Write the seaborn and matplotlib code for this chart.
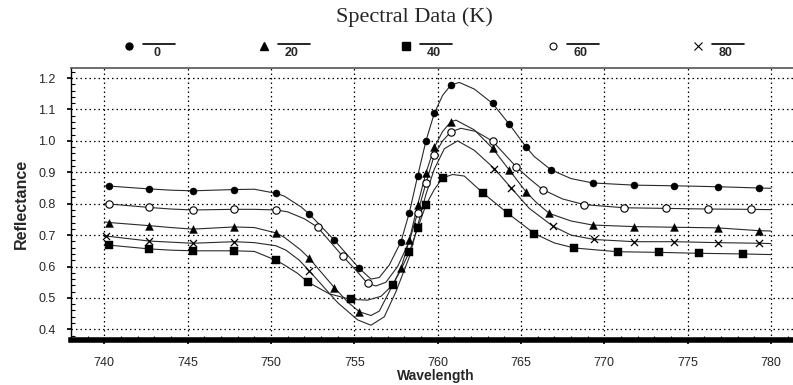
import numpy as np
import pandas as pd
import matplotlib
matplotlib.use("Agg")
import matplotlib.pyplot as plt
from matplotlib.lines import Line2D
from matplotlib.ticker import MultipleLocator
import seaborn as sns

# ---------------- data ----------------
series_labels = ["0", "20", "40", "60", "80"]
series_markers = ["o", "^", "s", "o", "x"]
series_filled = [True, True, True, False, False]

# marker points
wl_0_marks = [740.3, 742.7, 745.3, 747.8, 750.3, 752.3, 753.8, 755.3, 757.8, 758.3, 758.8, 759.3,
              759.8, 760.8, 763.3, 764.3, 765.3, 766.8, 769.3, 771.8, 774.2, 776.8, 779.3]
r_0_marks = [0.856, 0.847, 0.841, 0.845, 0.833, 0.767, 0.684, 0.594, 0.679, 0.771, 0.888, 1.000,
             1.088, 1.178, 1.119, 1.053, 0.981, 0.908, 0.866, 0.859, 0.857, 0.854, 0.850]
# additional points (no marker)
wl_0_extra = [740.0, 744.0, 749.0, 750.8, 751.8, 754.6, 756.0, 756.5, 757.1, 760.3, 761.3, 762.2,
              765.8, 768.0, 780.0]
r_0_extra = [0.857, 0.843, 0.846, 0.824, 0.790, 0.636, 0.560, 0.565, 0.605, 1.145, 1.186, 1.165,
             0.950, 0.880, 0.849]

wl_20_marks = [740.3, 742.7, 745.3, 747.8, 750.3, 752.3, 753.8, 755.3, 757.8, 758.3, 758.8, 759.3,
               759.8, 760.8, 763.3, 764.3, 765.3, 766.7, 769.3, 771.8, 774.2, 776.8, 779.3]
r_20_marks = [0.740, 0.730, 0.719, 0.726, 0.707, 0.626, 0.533, 0.456, 0.594, 0.684, 0.796, 0.898,
              0.979, 1.061, 0.976, 0.907, 0.838, 0.769, 0.732, 0.727, 0.725, 0.723, 0.714]
wl_20_extra = [740.0, 744.0, 749.0, 750.8, 751.8, 754.6, 756.0, 756.5, 757.1, 760.3, 761.1, 762.2,
               765.9, 768.0, 780.0]
r_20_extra = [0.742, 0.724, 0.724, 0.693, 0.652, 0.487, 0.444, 0.458, 0.520, 1.030, 1.066, 1.035,
              0.805, 0.745, 0.713]

wl_40_marks = [740.3, 742.7, 745.3, 747.8, 750.3, 752.2, 754.8, 757.3, 758.3, 758.8, 759.3, 760.3,
               762.7, 764.2, 765.8, 768.2, 770.8, 773.3, 775.7, 778.3]
r_40_marks = [0.668, 0.656, 0.650, 0.650, 0.620, 0.551, 0.495, 0.541, 0.646, 0.722, 0.796, 0.882,
              0.835, 0.770, 0.705, 0.659, 0.647, 0.645, 0.642, 0.640]
wl_40_extra = [740.0, 744.0, 749.0, 750.8, 751.6, 753.5, 755.8, 756.6, 757.8, 759.8, 760.9, 761.6,
               767.0, 780.0]
r_40_extra = [0.670, 0.652, 0.648, 0.605, 0.578, 0.513, 0.493, 0.505, 0.590, 0.845, 0.893, 0.888,
              0.675, 0.638]

wl_60_marks = [740.3, 742.7, 745.3, 747.8, 750.3, 752.8, 754.3, 755.8, 758.8, 759.3, 759.8, 760.8,
               763.3, 764.7, 766.3, 768.8, 771.2, 773.7, 776.2, 778.8]
r_60_marks = [0.799, 0.788, 0.780, 0.782, 0.780, 0.725, 0.633, 0.546, 0.771, 0.865, 0.955, 1.029,
              0.999, 0.918, 0.845, 0.797, 0.787, 0.785, 0.783, 0.782]
wl_60_extra = [740.0, 744.0, 749.0, 751.0, 752.0, 755.1, 756.3, 756.9, 757.6, 758.3, 760.3, 761.4,
               762.3, 765.5, 767.5, 780.0]
r_60_extra = [0.800, 0.783, 0.782, 0.774, 0.752, 0.588, 0.538, 0.550, 0.600, 0.680, 1.000, 1.040,
              1.030, 0.880, 0.815, 0.781]

wl_80_marks = [740.1, 742.7, 745.3, 747.8, 752.3, 758.8, 763.4, 764.4, 766.9, 769.4, 771.8, 774.2,
               776.8, 779.3]
r_80_marks = [0.697, 0.681, 0.674, 0.679, 0.586, 0.730, 0.912, 0.851, 0.729, 0.686, 0.679, 0.679,
              0.676, 0.674]
wl_80_extra = [740.0, 749.0, 750.3, 750.9, 751.7, 754.0, 755.2, 756.0, 756.8, 757.5, 758.3, 759.3,
               759.8, 760.4, 761.2, 762.2, 765.5, 768.0, 780.0]
r_80_extra = [0.698, 0.676, 0.666, 0.652, 0.620, 0.485, 0.430, 0.413, 0.440, 0.520, 0.630, 0.830,
              0.910, 0.975, 1.000, 0.970, 0.785, 0.700, 0.673]

x_ticks = [740, 745, 750, 755, 760, 765, 770, 775, 780]
y_ticks = [0.4, 0.5, 0.6, 0.7, 0.8, 0.9, 1.0, 1.1, 1.2]

marks = [(wl_0_marks, r_0_marks), (wl_20_marks, r_20_marks), (wl_40_marks, r_40_marks),
         (wl_60_marks, r_60_marks), (wl_80_marks, r_80_marks)]
extras = [(wl_0_extra, r_0_extra), (wl_20_extra, r_20_extra), (wl_40_extra, r_40_extra),
          (wl_60_extra, r_60_extra), (wl_80_extra, r_80_extra)]

# ---------------- styling ----------------
sns.set_theme(style="white")
plt.rcParams["font.family"] = ["Liberation Sans", "DejaVu Sans"]

fig = plt.figure(figsize=(7.93, 3.85), dpi=100)
ax = fig.add_axes([71 / 793, 1 - 340 / 385, 1 - 71 / 793 + 0.01, (340 - 68) / 385])

line_color = "#2a2a2a"
for lab, (mw, mr), (ew, er), mk, filled in zip(series_labels, marks, extras,
                                                series_markers, series_filled):
    curve = pd.DataFrame({"Wavelength": list(mw) + list(ew),
                          "Reflectance": list(mr) + list(er)}).sort_values("Wavelength")
    sns.lineplot(data=curve, x="Wavelength", y="Reflectance", ax=ax, color=line_color,
                 lw=0.8, estimator=None, sort=True)
    mdf = pd.DataFrame({"Wavelength": mw, "Reflectance": mr})
    if mk == "x":
        sns.scatterplot(data=mdf, x="Wavelength", y="Reflectance", ax=ax, marker="x",
                        color="black", s=26, linewidth=0.9, zorder=5)
    elif filled:
        size = 26 if mk == "o" else 32
        sns.scatterplot(data=mdf, x="Wavelength", y="Reflectance", ax=ax, marker=mk,
                        color="black", edgecolor="black", s=size, linewidth=0.3, zorder=5)
    else:
        sns.scatterplot(data=mdf, x="Wavelength", y="Reflectance", ax=ax, marker=mk,
                        facecolor="white", edgecolor="black", s=28, linewidth=0.8, zorder=5)

ax.set_xlim(738.0, 781.8)
ax.set_ylim(0.366, 1.232)
ax.set_xticks(x_ticks)
ax.set_yticks(y_ticks)
ax.set_xticklabels([str(t) for t in x_ticks])
ax.set_yticklabels([f"{t:.1f}" for t in y_ticks])
ax.xaxis.set_minor_locator(MultipleLocator(1))
ax.yaxis.set_minor_locator(MultipleLocator(0.02))
ax.grid(True, which="major", color="black", linestyle=(0, (1.2, 2.4)), linewidth=0.9)
ax.tick_params(axis="both", which="major", labelsize=9, length=3, color="black",
               direction="out")
ax.tick_params(axis="x", which="major", pad=9)
ax.tick_params(axis="y", which="major", pad=8)
ax.tick_params(axis="x", which="minor", bottom=True, direction="in", length=3, width=0.8,
               color="black")
ax.tick_params(axis="y", which="minor", left=True, direction="in", length=3, width=0.8,
               color="black")
ax.tick_params(axis="x", which="major", bottom=True)
ax.tick_params(axis="y", which="major", left=True)

ax.spines["right"].set_visible(False)
ax.spines["left"].set_color("black")
ax.spines["left"].set_linewidth(1.0)
ax.spines["top"].set_color("#555555")
ax.spines["top"].set_linewidth(1.2)
ax.spines["bottom"].set_color("black")
ax.spines["bottom"].set_linewidth(4.0)

ax.set_xlabel("Wavelength", fontsize=10, fontweight="bold", labelpad=0)
ax.set_ylabel("Reflectance", fontsize=11.5, fontweight="bold", labelpad=7)

fig.text(414 / 793, 1 - 17 / 385, "Spectral Data (K)", ha="center", va="center",
         fontsize=16, family=["Liberation Serif", "DejaVu Serif"])

# custom legend row: marker, line, label beneath line
leg_x = [129, 264, 406, 553, 698]
W, H = 793.0, 385.0
for xm, lab, mk, filled in zip(leg_x, series_labels, series_markers, series_filled):
    if mk == "x":
        art = Line2D([xm / W], [1 - 45.5 / H], marker="x", color="black", markersize=5.5,
                     mew=0.8, linestyle="none", transform=fig.transFigure)
    elif filled:
        art = Line2D([xm / W], [1 - 45.5 / H], marker=mk, color="black",
                     markersize=5 if mk == "o" else 5.5, linestyle="none",
                     transform=fig.transFigure)
    else:
        art = Line2D([xm / W], [1 - 45.5 / H], marker=mk, markerfacecolor="white",
                     markeredgecolor="black", markersize=5, mew=0.8, linestyle="none",
                     transform=fig.transFigure)
    fig.add_artist(art)
    fig.add_artist(Line2D([(xm + 14) / W, (xm + 46) / W], [1 - 44 / H, 1 - 44 / H],
                          color="black", lw=1.2, transform=fig.transFigure))
    fig.text((xm + 28) / W, 1 - 53 / H, lab, ha="center", va="center", fontsize=9,
             fontweight="bold")

fig.savefig("out.png", dpi=100)
